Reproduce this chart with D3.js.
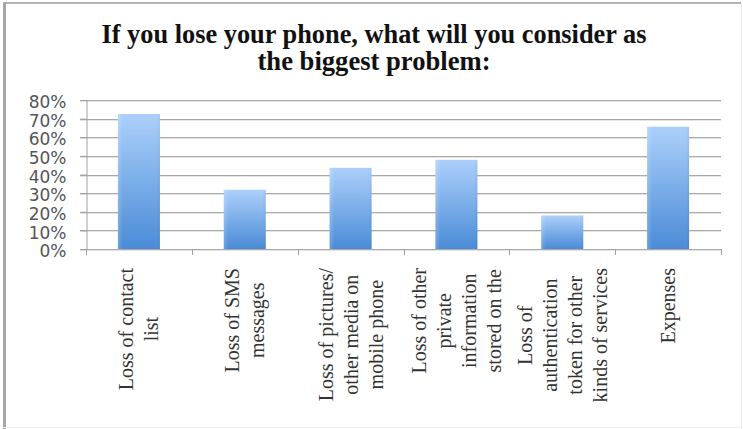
<!DOCTYPE html>
<html>
<head>
<meta charset="utf-8">
<script src="https://cdn.jsdelivr.net/npm/d3@7"></script>
<style>
  html, body { margin: 0; padding: 0; background: #fff; }
  svg { display: block; }
</style>
</head>
<body>
<svg id="chart" width="743" height="429"></svg>
<script>
// Survey answers: share of respondents naming each item the biggest problem
const categories = [
  ["Loss of contact", "list"],
  ["Loss of SMS", "messages"],
  ["Loss of pictures/", "other media on", "mobile phone"],
  ["Loss of other", "private", "information", "stored on the"],
  ["Loss of", "authentication", "token for other", "kinds of services"],
  ["Expenses"]
];
const values = [0.725, 0.318, 0.436, 0.479, 0.18, 0.657];
const tickValues = [0, 0.1, 0.2, 0.3, 0.4, 0.5, 0.6, 0.7, 0.8];
const tickLabels = ["0%", "10%", "20%", "30%", "40%", "50%", "60%", "70%", "80%"];
const titleLines = ["If you lose your phone, what will you consider as", "the biggest problem:"];

const svg = d3.select("#chart");
const W = 743, H = 429;
const plot = { left: 86, right: 721, top: 100, bottom: 249 };

// Frame around the chart area
svg.append("rect").attr("x", 0).attr("y", 0).attr("width", W).attr("height", H).attr("fill", "#fff");
svg.append("line").attr("x1", 3).attr("x2", 741).attr("y1", 3).attr("y2", 3)
  .attr("stroke", "#b4b4b4").attr("stroke-width", 2);
svg.append("line").attr("x1", 4.5).attr("x2", 4.5).attr("y1", 2).attr("y2", H)
  .attr("stroke", "#a8a8a8").attr("stroke-width", 3);
svg.append("line").attr("x1", 741.5).attr("x2", 741.5).attr("y1", 3).attr("y2", H)
  .attr("stroke", "#ececec").attr("stroke-width", 1);
svg.append("line").attr("x1", 3).attr("x2", 741).attr("y1", 427.5).attr("y2", 427.5)
  .attr("stroke", "#efefef").attr("stroke-width", 1);

// Title, each line fitted to its set width
const titleWidths = [545, 233];
const title = svg.append("g");
titleLines.forEach((t, i) => {
  title.append("text")
    .attr("x", 374).attr("y", 43 + i * 27)
    .attr("text-anchor", "middle")
    .attr("font-family", "'Liberation Serif', 'DejaVu Serif', serif")
    .attr("font-weight", "bold")
    .attr("font-size", 26.5)
    .attr("fill", "#111")
    .attr("textLength", titleWidths[i])
    .attr("lengthAdjust", "spacingAndGlyphs")
    .text(t);
});

// Scales
const x = d3.scaleBand().domain(d3.range(categories.length))
  .range([plot.left, plot.right]).paddingInner(0).paddingOuter(0);
const y = d3.scaleLinear().domain([0, 0.8]).range([plot.bottom, plot.top]);

// Gridlines (with a faint lighter line beneath each, for an embossed look)
const grid = svg.append("g");
tickValues.forEach(v => {
  const yy = Math.round(y(v)) + 0.5;
  grid.append("line").attr("x1", plot.left - 6).attr("x2", plot.right)
    .attr("y1", yy + 1).attr("y2", yy + 1).attr("stroke", "#e4e4e4");
  grid.append("line").attr("x1", plot.left - 6).attr("x2", plot.right)
    .attr("y1", yy).attr("y2", yy).attr("stroke", "#aaaaaa");
});

// Y axis
const yAxis = svg.append("g").attr("transform", `translate(${plot.left + 0.5},0)`)
  .call(d3.axisLeft(y).tickValues(tickValues).tickSize(6).tickFormat((d, i) => tickLabels[i]));
yAxis.select(".domain").attr("stroke", "#a0a0a0");
yAxis.selectAll(".tick line").attr("stroke", "#a0a0a0");
yAxis.selectAll(".tick text")
  .attr("x", -20)
  .attr("dy", "0.45em")
  .attr("font-family", "'DejaVu Sans', Verdana, sans-serif")
  .attr("font-size", 17)
  .attr("fill", "#555");

// X axis with tick marks at band boundaries
const xb = svg.append("g");
const bounds = d3.range(categories.length + 1).map(i => plot.left + i * x.bandwidth());
bounds.forEach(bx => {
  const xx = Math.round(bx) + 0.5;
  xb.append("line").attr("x1", xx).attr("x2", xx).attr("y1", plot.bottom).attr("y2", plot.bottom + 6)
    .attr("stroke", "#a0a0a0");
});

// Bar gradient
const defs = svg.append("defs");
const grad = defs.append("linearGradient").attr("id", "barGrad")
  .attr("x1", 0).attr("y1", 0).attr("x2", 0).attr("y2", 1);
grad.append("stop").attr("offset", "0%").attr("stop-color", "#acd0fb");
grad.append("stop").attr("offset", "100%").attr("stop-color", "#4a8bd7");
const edge = defs.append("linearGradient").attr("id", "barEdge")
  .attr("x1", 0).attr("y1", 0).attr("x2", 1).attr("y2", 0);
edge.append("stop").attr("offset", "0%").attr("stop-color", "#fff").attr("stop-opacity", 0.18);
edge.append("stop").attr("offset", "12%").attr("stop-color", "#fff").attr("stop-opacity", 0);
edge.append("stop").attr("offset", "88%").attr("stop-color", "#fff").attr("stop-opacity", 0);
edge.append("stop").attr("offset", "100%").attr("stop-color", "#000").attr("stop-opacity", 0.06);

const barW = 42;
const bars = svg.append("g");
values.forEach((v, i) => {
  const cx = x(i) + x.bandwidth() / 2;
  bars.append("rect")
    .attr("x", cx - barW / 2).attr("width", barW)
    .attr("y", y(v)).attr("height", y(0) - y(v))
    .attr("fill", "url(#barGrad)");
  bars.append("rect")
    .attr("x", cx - barW / 2).attr("width", barW)
    .attr("y", y(v)).attr("height", y(0) - y(v))
    .attr("fill", "url(#barEdge)");
});

// Category labels, rotated, multi-line and centred in each band
const lab = svg.append("g");
const lineGap = 25;
const labelTop = 268;
categories.forEach((lines, i) => {
  const cx = x(i) + x.bandwidth() / 2;
  const g = lab.append("g");
  const texts = lines.map((t, j) => g.append("text")
    .attr("text-anchor", "middle")
    .attr("font-family", "'Liberation Serif', 'Times New Roman', serif")
    .attr("font-size", 20)
    .attr("fill", "#333")
    .text(t));
  const maxLen = d3.max(texts, t => t.node().getComputedTextLength());
  const cy = labelTop + maxLen / 2;
  texts.forEach((t, j) => {
    const bx = cx + (j - (lines.length - 1) / 2) * lineGap + 7;
    t.attr("transform", `translate(${bx},${cy}) rotate(-90)`);
  });
});
</script>
</body>
</html>
